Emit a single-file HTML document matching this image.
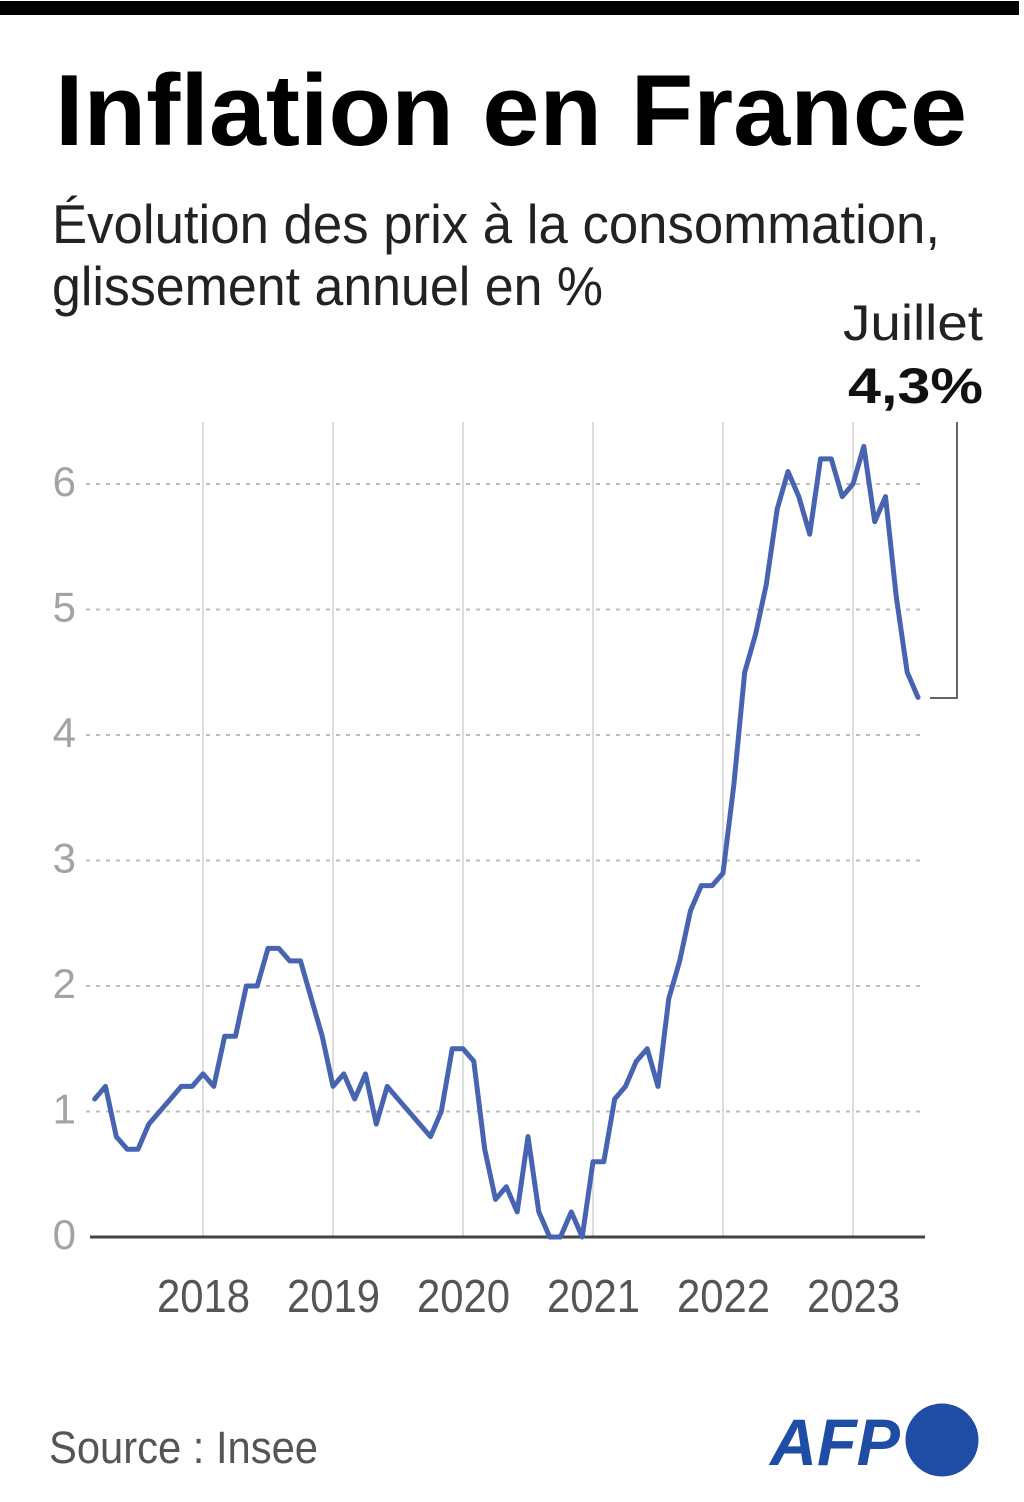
<!DOCTYPE html>
<html>
<head>
<meta charset="utf-8">
<style>
  html, body { margin:0; padding:0; background:#fff; }
  body { width:1024px; height:1502px; overflow:hidden; }
  svg { display:block; }
  text { font-family: "Liberation Sans", "DejaVu Sans", sans-serif; }
</style>
</head>
<body>
<svg width="1024" height="1502" viewBox="0 0 1024 1502" xmlns="http://www.w3.org/2000/svg">
  <rect x="0" y="0" width="1024" height="1502" fill="#fff"/>
  <!-- top bar -->
  <rect x="0" y="1" width="1019" height="14" fill="#000"/>

  <!-- title -->
  <text x="55" y="145" font-size="101" font-weight="bold" fill="#000" textLength="912" lengthAdjust="spacingAndGlyphs">Inflation en France</text>

  <!-- subtitle -->
  <text x="52" y="243" font-size="55" fill="#222" textLength="888" lengthAdjust="spacingAndGlyphs">Évolution des prix à la consommation,</text>
  <text x="52" y="305" font-size="55" fill="#222" textLength="551" lengthAdjust="spacingAndGlyphs">glissement annuel en %</text>

  <!-- annotation -->
  <text x="843" y="340" font-size="50" fill="#222" textLength="140" lengthAdjust="spacingAndGlyphs">Juillet</text>
  <text x="848" y="403" font-size="50" font-weight="bold" fill="#111" textLength="135" lengthAdjust="spacingAndGlyphs">4,3%</text>
  <polyline points="930,698 957,698 957,422" fill="none" stroke="#666" stroke-width="2"/>

  <!-- vertical gridlines -->
  <g stroke="#dcdcdc" stroke-width="2">
    <line x1="203" y1="422" x2="203" y2="1237"/>
    <line x1="333" y1="422" x2="333" y2="1237"/>
    <line x1="463" y1="422" x2="463" y2="1237"/>
    <line x1="593" y1="422" x2="593" y2="1237"/>
    <line x1="723" y1="422" x2="723" y2="1237"/>
    <line x1="853" y1="422" x2="853" y2="1237"/>
  </g>

  <!-- horizontal dotted gridlines -->
  <g stroke="#bdbdbd" stroke-width="2" stroke-dasharray="4 6">
    <line x1="86" y1="484" x2="922" y2="484"/>
    <line x1="86" y1="609.5" x2="922" y2="609.5"/>
    <line x1="86" y1="735" x2="922" y2="735"/>
    <line x1="86" y1="860.5" x2="922" y2="860.5"/>
    <line x1="86" y1="986" x2="922" y2="986"/>
    <line x1="86" y1="1111.5" x2="922" y2="1111.5"/>
  </g>

  <!-- y labels -->
  <g font-size="42" fill="#a3a3a3" text-anchor="end">
    <text x="76" y="1249">0</text>
    <text x="76" y="1123.5">1</text>
    <text x="76" y="998">2</text>
    <text x="76" y="872.5">3</text>
    <text x="76" y="747">4</text>
    <text x="76" y="621.5">5</text>
    <text x="76" y="496">6</text>
  </g>

  <!-- baseline -->
  <line x1="90" y1="1237" x2="925" y2="1237" stroke="#444" stroke-width="3"/>

  <!-- series -->
  <polyline fill="none" stroke="#4764b0" stroke-width="5" stroke-linejoin="round" stroke-linecap="round" points="
94.7,1099.0 105.5,1086.4 116.3,1136.6 127.2,1149.2 138.0,1149.2 148.8,1124.1 159.7,1111.5 170.5,1099.0 181.3,1086.4 192.2,1086.4
203.0,1073.9 213.8,1086.4 224.7,1036.2 235.5,1036.2 246.3,986 257.2,986 268.0,948.4 278.8,948.4 289.7,960.9 300.5,960.9 311.3,998.6 322.2,1036.2
333.0,1086.4 343.8,1073.9 354.7,1099.0 365.5,1073.9 376.3,1124.1 387.2,1086.4 398.0,1099.0 408.8,1111.5 419.7,1124.1 430.5,1136.6 441.3,1111.5 452.2,1048.8
463.0,1048.8 473.8,1061.3 484.7,1149.2 495.5,1199.4 506.3,1186.8 517.2,1211.9 528.0,1136.6 538.8,1211.9 549.7,1237 560.5,1237 571.3,1211.9 582.2,1237
593.0,1161.7 603.8,1161.7 614.7,1099.0 625.5,1086.4 636.3,1061.3 647.2,1048.8 658.0,1086.4 668.8,998.6 679.7,960.9 690.5,910.7 701.3,885.6 712.2,885.6
723.0,873.1 733.8,785.2 744.7,672.3 755.5,634.6 766.3,584.4 777.2,509.1 788.0,471.5 798.8,496.6 809.7,534.2 820.5,458.9 831.3,458.9 842.2,496.6
853.0,484 863.8,446.4 874.7,521.7 885.5,496.6 896.3,597 907.2,672.3 918.0,697.4"/>

  <!-- x labels -->
  <g font-size="46" fill="#555" text-anchor="middle">
    <text x="203.5" y="1312" textLength="93" lengthAdjust="spacingAndGlyphs">2018</text>
    <text x="333.5" y="1312" textLength="93" lengthAdjust="spacingAndGlyphs">2019</text>
    <text x="463.5" y="1312" textLength="93" lengthAdjust="spacingAndGlyphs">2020</text>
    <text x="593.5" y="1312" textLength="93" lengthAdjust="spacingAndGlyphs">2021</text>
    <text x="723.5" y="1312" textLength="93" lengthAdjust="spacingAndGlyphs">2022</text>
    <text x="853.5" y="1312" textLength="93" lengthAdjust="spacingAndGlyphs">2023</text>
  </g>

  <!-- source -->
  <text x="49" y="1463" font-size="45" fill="#555" textLength="269" lengthAdjust="spacingAndGlyphs">Source : Insee</text>

  <!-- AFP logo -->
  <text x="770" y="1465" font-size="66" font-weight="bold" font-style="italic" fill="#1f4da6" textLength="130" lengthAdjust="spacingAndGlyphs">AFP</text>
  <circle cx="942" cy="1440" r="36.5" fill="#1f4da6"/>
</svg>
</body>
</html>
